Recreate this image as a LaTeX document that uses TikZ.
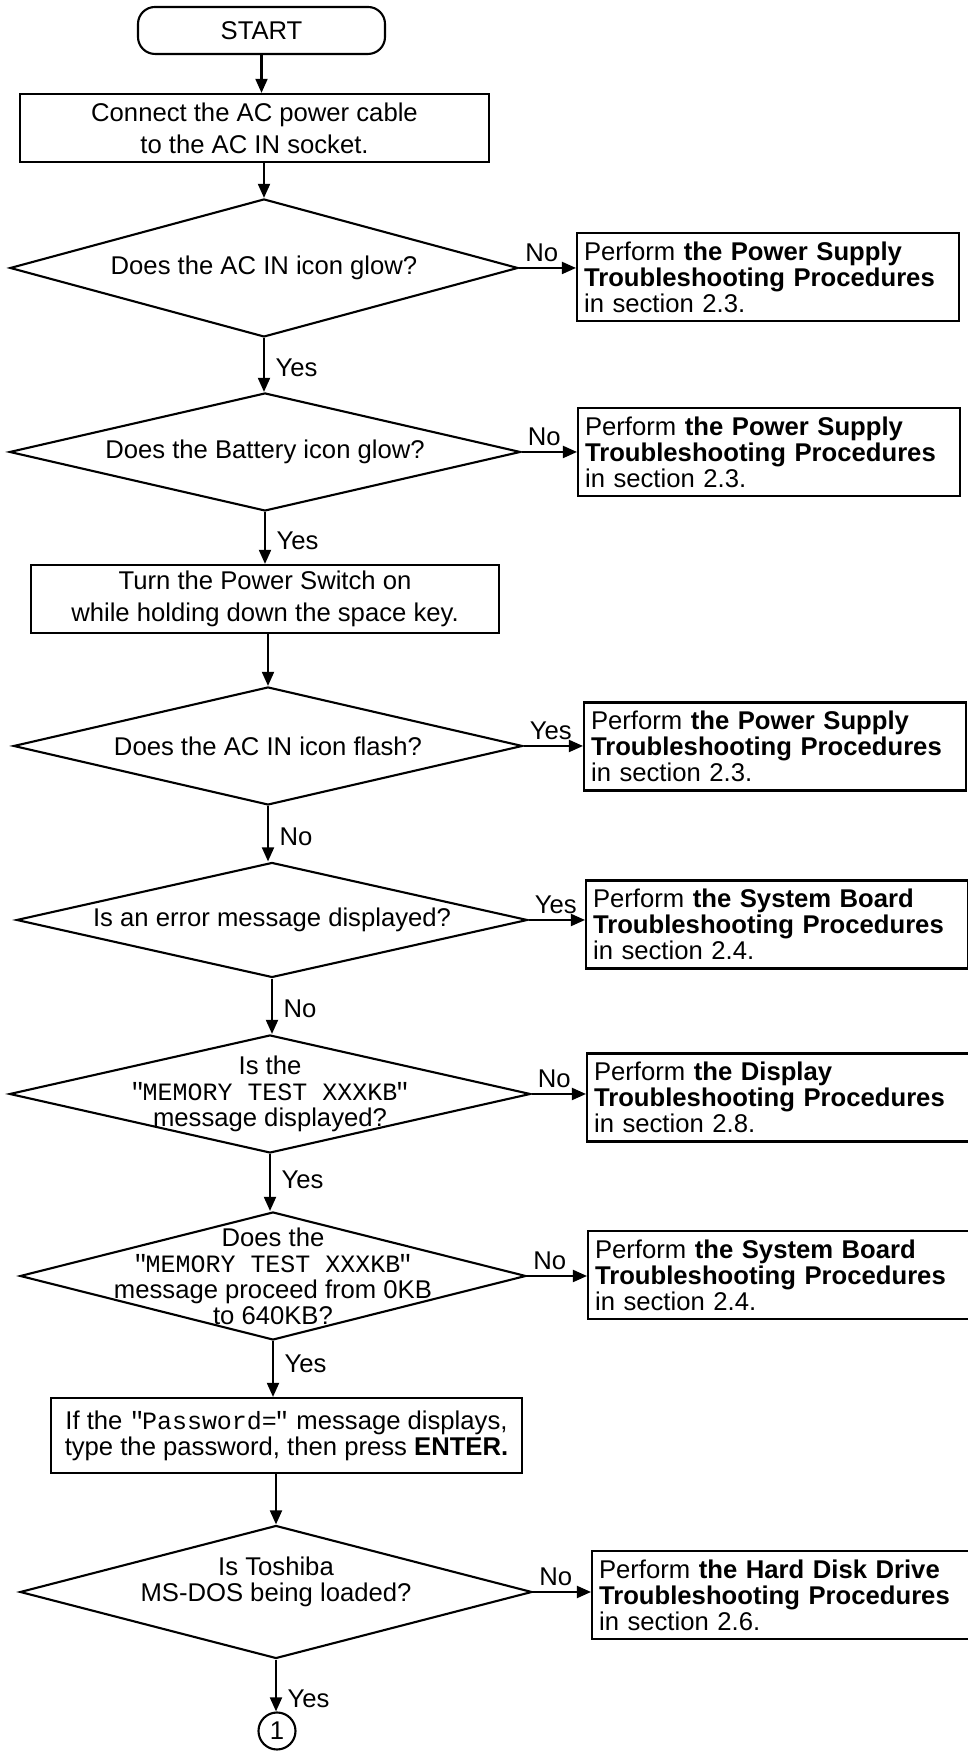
\documentclass[tikz,border=0pt]{standalone}
\usepackage{fontspec}
\setmainfont{Liberation Sans}
\setmonofont{Liberation Mono}
\usepackage{tikz}
\usetikzlibrary{shapes,arrows.meta,calc}

\newcommand{\tsMono}[1]{{\ttfamily\fontsize{7.1}{7.4}\selectfont"\kern-0.1em #1\kern-0.1em"}}

\tikzstyle{tsText} = [
    text=black,
    font=\fontsize{7.3}{7.4}\selectfont,
    inner sep=0pt,
    align=center
]
\tikzstyle{tsLabel} = [
    tsText,
    inner sep=1.5pt
]
\tikzstyle{tsRectangle} = [
    rectangle,
    tsText,
    draw=black,
    line width=0.6pt
]
\tikzstyle{tsStep} = [
    tsRectangle,
    font=\fontsize{7.3}{9.1}\selectfont
]
\tikzstyle{tsTerminal} = [
    tsRectangle,
    rounded corners=0.17cm
]
\tikzstyle{tsNote} = [
    tsRectangle,
    anchor=west,
    text width=3.68cm,
    inner xsep=0.07cm,
    align=left,
    minimum height=0.88cm
]
\tikzstyle{tsDiamond} = [
    diamond,
    draw=black,
    line width=0.6pt,
    inner sep=0pt
]
\tikzstyle{tsArrow} = [
    -{Triangle[length=4pt,width=3.4pt]},
    line width=0.6pt
]

\begin{document}
\begin{tikzpicture}
        \useasboundingbox (0,0) rectangle (9.67,17.56);

        % main column
        \node[tsTerminal, minimum width=2.47cm, minimum height=0.47cm] (start) at (2.615,17.255) {START};
        \node[tsStep, minimum width=4.69cm, minimum height=0.68cm] (connect) at (2.545,16.28)
            {Connect the AC power cable\\to the AC IN socket.};

        \node[tsDiamond, minimum width=5.08cm, minimum height=1.38cm] (acGlow) at (2.64,14.88) {};
        \node[tsText] (acGlowTxt) at (acGlow) {Does the AC IN icon glow?};

        \node[tsDiamond, minimum width=5.11cm, minimum height=1.18cm] (batGlow) at (2.65,13.04) {};
        \node[tsText] (batGlowTxt) at (batGlow) {Does the Battery icon glow?};

        \node[tsStep, minimum width=4.68cm, minimum height=0.68cm] (powerOn) at (2.65,11.57)
            {Turn the Power Switch on\\while holding down the space key.};

        \node[tsDiamond, minimum width=5.09cm, minimum height=1.18cm] (acFlash) at (2.68,10.10) {};
        \node[tsText] (acFlashTxt) at (acFlash) {Does the AC IN icon flash?};

        \node[tsDiamond, minimum width=5.11cm, minimum height=1.15cm] (errMsg) at (2.72,8.36) {};
        \node[tsText] (errMsgTxt) at (errMsg) {Is an error message displayed?};

        \node[tsDiamond, minimum width=5.21cm, minimum height=1.18cm] (memShown) at (2.70,6.62) {};
        \node[tsText] (memShownTxt) at (memShown)
            {Is the\\\tsMono{MEMORY TEST XXXKB}\\message displayed?};

        \node[tsDiamond, minimum width=5.06cm, minimum height=1.28cm] (memCount) at (2.73,4.80) {};
        \node[tsText] (memCountTxt) at (memCount)
            {Does the\\\tsMono{MEMORY TEST XXXKB}\\message proceed from 0KB\\to 640KB?};

        \node[tsRectangle, minimum width=4.71cm, minimum height=0.75cm] (passwd) at (2.865,3.205)
            {If the \tsMono{Password=} message displays,\\type the password, then press \textbf{ENTER.}};

        \node[tsDiamond, minimum width=5.12cm, minimum height=1.33cm] (dosLoad) at (2.76,1.64) {};
        \node[tsText, yshift=0.1cm] (dosLoadTxt) at (dosLoad) {Is Toshiba\\MS-DOS being loaded?};

        \node[circle, draw=black, line width=0.6pt, tsText, minimum size=0.37cm] (cont) at (2.77,0.25) {1};

        % right column
        \node[tsNote] (psA) at (5.76,14.79)
            {Perform \textbf{the Power Supply}\\\textbf{Troubleshooting Procedures}\\in section 2.3.};
        \node[tsNote] (psB) at (5.77,13.04)
            {Perform \textbf{the Power Supply}\\\textbf{Troubleshooting Procedures}\\in section 2.3.};
        \node[tsNote] (psC) at (5.83,10.095)
            {Perform \textbf{the Power Supply}\\\textbf{Troubleshooting Procedures}\\in section 2.3.};
        \node[tsNote] (sbA) at (5.85,8.315)
            {Perform \textbf{the System Board}\\\textbf{Troubleshooting Procedures}\\in section 2.4.};
        \node[tsNote] (disp) at (5.86,6.585)
            {Perform \textbf{the Display}\\\textbf{Troubleshooting Procedures}\\in section 2.8.};
        \node[tsNote] (sbB) at (5.87,4.81)
            {Perform \textbf{the System Board}\\\textbf{Troubleshooting Procedures}\\in section 2.4.};
        \node[tsNote] (hdd) at (5.91,1.61)
            {Perform \textbf{the Hard Disk Drive}\\\textbf{Troubleshooting Procedures}\\in section 2.6.};

        % flow down
        \draw[tsArrow] (start.south) -- (start.south |- connect.north);
        \draw[tsArrow] (acGlow.north |- connect.south) -- (acGlow.north);
        \draw[tsArrow] (acGlow.south) -- node[tsLabel, right=1.5pt, pos=0.55] (yesA) {Yes} (acGlow.south |- batGlow.north);
        \draw[tsArrow] (batGlow.south) -- node[tsLabel, right=1.5pt, pos=0.55] (yesB) {Yes} (batGlow.south |- powerOn.north);
        \draw[tsArrow] (acFlash.north |- powerOn.south) -- (acFlash.north);
        \draw[tsArrow] (acFlash.south) -- node[tsLabel, right=1.5pt, pos=0.55] (noC) {No} (acFlash.south |- errMsg.north);
        \draw[tsArrow] (errMsg.south) -- node[tsLabel, right=1.5pt, pos=0.55] (noD) {No} (errMsg.south |- memShown.north);
        \draw[tsArrow] (memShown.south) -- node[tsLabel, right=1.5pt, pos=0.45] (yesE) {Yes} (memShown.south |- memCount.north);
        \draw[tsArrow] (memCount.south) -- node[tsLabel, right=1.5pt, pos=0.4] (yesF) {Yes} (memCount.south |- passwd.north);
        \draw[tsArrow] (dosLoad.north |- passwd.south) -- (dosLoad.north);
        \draw[tsArrow] (dosLoad.south) -- node[tsLabel, right=1.5pt, pos=0.75] (yesG) {Yes} (dosLoad.south |- cont.north);

        % branches
        \draw[tsArrow] (acGlow.east) -- node[tsLabel, above right, pos=0] (noA) {No} (acGlow.east -| psA.west);
        \draw[tsArrow] (batGlow.east) -- node[tsLabel, above right, pos=0] (noB) {No} (batGlow.east -| psB.west);
        \draw[tsArrow] (acFlash.east) -- node[tsLabel, above right, pos=0] (yesC) {Yes} (acFlash.east -| psC.west);
        \draw[tsArrow] (errMsg.east) -- node[tsLabel, above right, pos=0] (yesD) {Yes} (errMsg.east -| sbA.west);
        \draw[tsArrow] (memShown.east) -- node[tsLabel, above right, pos=0] (noE) {No} (memShown.east -| disp.west);
        \draw[tsArrow] (memCount.east) -- node[tsLabel, above right, pos=0] (noF) {No} (memCount.east -| sbB.west);
        \draw[tsArrow] (dosLoad.east) -- node[tsLabel, above right, pos=0] (noG) {No} (dosLoad.east -| hdd.west);

\end{tikzpicture}
\end{document}
